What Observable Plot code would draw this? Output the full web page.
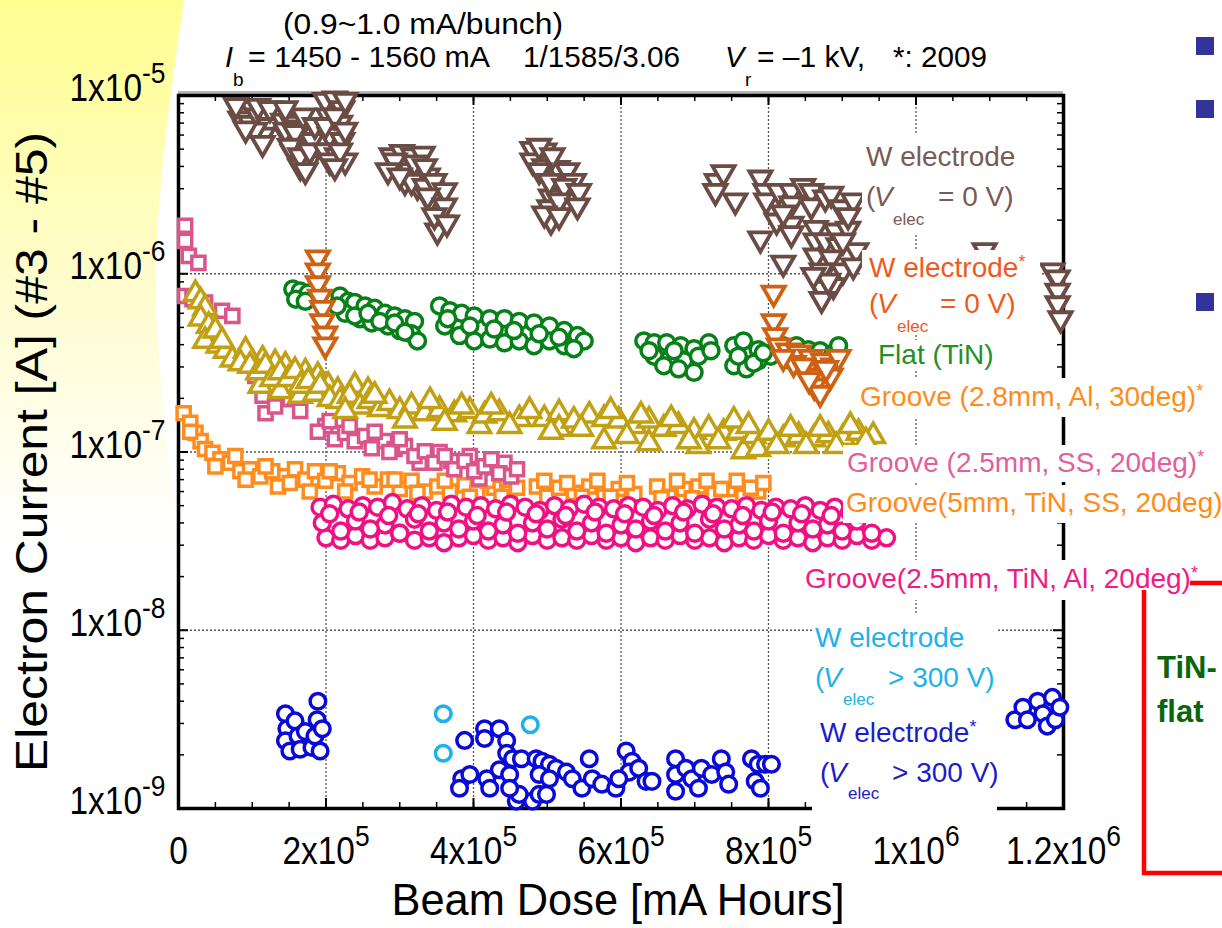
<!DOCTYPE html>
<html>
<head>
<meta charset="utf-8">
<script src="https://cdn.jsdelivr.net/npm/d3@7"></script>
<script src="https://cdn.jsdelivr.net/npm/@observablehq/plot@0.6"></script>
<style>
  html, body { margin: 0; padding: 0; background: #fff; }
  svg text { font-family: "Liberation Sans", Arial, sans-serif; }
</style>
</head>
<body>
<script>
// ---------------- data (Beam Dose [mA h], Electron Current [A]) ----------------
const xMajor = [0, 2e5, 4e5, 6e5, 8e5, 1e6, 1.2e6];
const xTickLabels = ["0", "2x10|5", "4x10|5", "6x10|5", "8x10|5", "1x10|6", "1.2x10|6"];
const xGrid = [2e5, 4e5, 6e5, 8e5, 1e6];
const yMajor = [1e-9, 1e-8, 1e-7, 1e-6, 1e-5];
const yTickLabels = ["1x10|-9", "1x10|-8", "1x10|-7", "1x10|-6", "1x10|-5"];
const yGrid = [1e-8, 1e-7, 1e-6];

// W electrode (Velec = 0 V)
const wElec0 = [
  [0.81e5,8.45e-6],[0.91e5,8.2e-6],[1.00e5,8.45e-6],[0.84e5,7.4e-6],[0.97e5,7.0e-6],[1.08e5,7.7e-6],[1.18e5,7.9e-6],[1.22e5,6.8e-6],[1.15e5,6.0e-6],
  [0.78e5,8.8e-6],[1.08e5,8.7e-6],[1.24e5,8.45e-6],[1.04e5,6.4e-6],[0.91e5,6.5e-6],[1.14e5,5.4e-6],
  [1.42e5,7.2e-6],[1.54e5,7.0e-6],[1.65e5,6.6e-6],[1.47e5,6.0e-6],[1.61e5,5.6e-6],[1.72e5,4.9e-6],[1.55e5,4.8e-6],[1.76e5,4.2e-6],[1.65e5,4.0e-6],[1.81e5,5.6e-6],
  [1.45e5,6.4e-6],[1.58e5,6.2e-6],[1.69e5,7.7e-6],[1.51e5,5.2e-6],[1.65e5,4.6e-6],[1.78e5,4.9e-6],[1.72e5,3.8e-6],[1.85e5,6.8e-6],[1.45e5,8.45e-6],
  [1.99e5,9.4e-6],[2.12e5,9.6e-6],[2.22e5,8.45e-6],[2.03e5,7.7e-6],[2.19e5,7.0e-6],[2.05e5,6.0e-6],[2.22e5,5.6e-6],[1.99e5,4.9e-6],[2.15e5,4.6e-6],[2.26e5,4.3e-6],[2.05e5,4.3e-6],
  [1.99e5,6.8e-6],[2.12e5,7.7e-6],[2.26e5,6.4e-6],[2.19e5,4.9e-6],[2.12e5,4.0e-6],[2.26e5,9.4e-6],
  [2.89e5,4.6e-6],[3.03e5,4.8e-6],[3.18e5,4.6e-6],[3.31e5,4.7e-6],[2.97e5,4.0e-6],[3.14e5,3.8e-6],[3.27e5,3.9e-6],[3.38e5,3.55e-6],[3.43e5,3.0e-6],[3.51e5,2.6e-6],[3.54e5,2.26e-6],[3.55e5,1.93e-6],[3.51e5,1.74e-6],[3.41e5,2.57e-6],[3.24e5,3.1e-6],[3.07e5,3.3e-6],
  [2.93e5,4.3e-6],[3.20e5,4.2e-6],[3.34e5,4.0e-6],[3.16e5,3.3e-6],[3.34e5,3.1e-6],[3.47e5,3.3e-6],[3.61e5,2.93e-6],[3.38e5,2.74e-6],[3.61e5,2.41e-6],[3.47e5,2.12e-6],[3.64e5,1.93e-6],[2.84e5,3.8e-6],[3.00e5,3.55e-6],
  [4.80e5,5.0e-6],[4.96e5,4.9e-6],[4.80e5,4.3e-6],[4.96e5,4.0e-6],[5.14e5,3.9e-6],[5.27e5,3.8e-6],[5.36e5,3.3e-6],[5.19e5,3.1e-6],[5.32e5,2.8e-6],[5.05e5,2.7e-6],[5.03e5,2.35e-6],[5.05e5,1.98e-6],[5.27e5,2.57e-6],
  [4.89e5,5.2e-6],[5.07e5,4.6e-6],[4.89e5,3.8e-6],[5.03e5,3.3e-6],[5.23e5,3.1e-6],[5.43e5,2.9e-6],[5.16e5,2.57e-6],[5.41e5,2.41e-6],[4.96e5,2.17e-6],[5.16e5,2.12e-6],
  [7.30e5,3.3e-6],[7.28e5,2.9e-6],[7.55e5,2.57e-6],[7.89e5,3.45e-6],[7.96e5,2.9e-6],[7.97e5,2.57e-6],[8.14e5,2.9e-6],[8.31e5,2.9e-6],[8.31e5,2.47e-6],[8.11e5,1.98e-6],[8.31e5,1.9e-6],[8.31e5,1.68e-6],[7.89e5,1.57e-6],[8.20e5,1.15e-6],
  [7.39e5,3.7e-6],[8.47e5,3.1e-6],[8.20e5,2.2e-6],
  [8.58e5,2.9e-6],[8.58e5,2.41e-6],[8.77e5,2.67e-6],[8.85e5,2.8e-6],[8.99e5,2.35e-6],[9.15e5,2.57e-6],[8.64e5,1.8e-6],[8.64e5,1.53e-6],[8.64e5,1.26e-6],[8.77e5,1.53e-6],[8.91e5,1.74e-6],[9.08e5,1.78e-6],[9.19e5,1.35e-6],[8.95e5,1.44e-6],[8.85e5,1.23e-6],[9.01e5,1.04e-6],[8.72e5,1.04e-6],[8.88e5,8.6e-7],[8.72e5,8.3e-7],[8.72e5,7.2e-7],
  [9.08e5,2.12e-6],[9.01e5,1.53e-6],[9.15e5,1.11e-6],[8.81e5,9.1e-7],[8.61e5,9.8e-7],
  [10.93e5,1.35e-6],[11.85e5,1.04e-6],[11.92e5,9.5e-7],[11.92e5,8.0e-7],[11.92e5,6.8e-7],[11.96e5,5.6e-7]
];
// W electrode* (Velec = 0 V)
const wElecStar0 = [
  [1.89e5,1.23e-6],[1.89e5,1.04e-6],[1.89e5,8.8e-7],[1.92e5,7.4e-7],[1.95e5,6.4e-7],[1.95e5,5.4e-7],[1.99e5,4.6e-7],[1.99e5,4.0e-7],
  [8.07e5,7.8e-7],[8.07e5,5.4e-7],[8.09e5,4.5e-7],[8.14e5,3.95e-7],[8.27e5,3.7e-7],[8.41e5,3.6e-7],[8.57e5,3.4e-7],[8.74e5,3.25e-7],[8.88e5,3.05e-7],
  [8.34e5,3.15e-7],[8.51e5,2.85e-7],[8.68e5,2.67e-7],[8.84e5,2.67e-7],[8.62e5,2.35e-7],[8.70e5,2.14e-7],
  [8.20e5,3.4e-7],[8.47e5,3.05e-7],[8.95e5,3.4e-7],[8.78e5,2.95e-7],[8.55e5,2.55e-7]
];
// Flat (TiN)
const flatTiN = [
  [1.55e5,8.2e-7],[1.65e5,8.0e-7],[1.76e5,7.8e-7],[1.59e5,7.2e-7],[1.72e5,7.0e-7],
  [2.19e5,7.5e-7],[2.30e5,7.0e-7],[2.39e5,6.9e-7],[2.53e5,6.6e-7],[2.66e5,6.4e-7],[2.80e5,6.0e-7],[2.93e5,5.8e-7],[3.07e5,5.6e-7],[3.20e5,5.4e-7],
  [2.26e5,6.0e-7],[2.46e5,5.6e-7],[2.62e5,5.3e-7],[2.84e5,5.1e-7],[3.00e5,4.8e-7],[3.16e5,4.6e-7],[3.24e5,4.2e-7],
  [2.15e5,6.6e-7],[2.39e5,5.8e-7],[2.57e5,6.0e-7],[2.73e5,5.4e-7],[2.93e5,5.3e-7],[3.07e5,4.7e-7],
  [3.54e5,6.6e-7],[3.68e5,6.2e-7],[3.84e5,6.0e-7],[4.01e5,5.8e-7],[4.22e5,5.6e-7],[4.42e5,5.6e-7],[4.62e5,5.4e-7],[4.82e5,5.3e-7],[5.03e5,5.1e-7],[5.23e5,4.8e-7],[5.41e5,4.5e-7],
  [3.61e5,5.1e-7],[3.81e5,4.5e-7],[4.01e5,4.2e-7],[4.22e5,4.3e-7],[4.42e5,4.1e-7],[4.62e5,4.2e-7],[4.82e5,3.95e-7],[5.03e5,4.2e-7],[5.23e5,3.95e-7],[5.50e5,4.2e-7],
  [3.65e5,5.6e-7],[3.95e5,5.1e-7],[4.28e5,4.9e-7],[4.55e5,4.8e-7],[4.89e5,4.6e-7],[5.16e5,4.4e-7],[5.36e5,3.8e-7],
  [6.31e5,4.2e-7],[6.45e5,4.1e-7],[6.62e5,4.1e-7],[6.81e5,3.95e-7],[6.99e5,3.8e-7],[7.19e5,4.1e-7],[6.45e5,3.45e-7],[6.65e5,3.3e-7],[6.85e5,3.25e-7],[6.99e5,2.8e-7],
  [6.38e5,3.7e-7],[6.72e5,3.7e-7],[7.05e5,3.45e-7],[7.22e5,3.7e-7],[6.58e5,3.05e-7],[6.78e5,2.93e-7],
  [7.53e5,3.95e-7],[7.53e5,3.05e-7],[7.70e5,3.7e-7],[7.86e5,3.75e-7],[8.03e5,3.45e-7],[8.20e5,3.95e-7],[8.38e5,3.95e-7],[8.54e5,3.75e-7],[8.70e5,3.7e-7],[8.88e5,3.6e-7],[7.70e5,2.93e-7],[7.86e5,3.25e-7],
  [7.59e5,3.45e-7],[7.80e5,3.15e-7],[7.93e5,3.6e-7],[7.66e5,4.2e-7],[8.27e5,3.3e-7],[8.47e5,3.25e-7],[8.81e5,3.25e-7],[8.95e5,3.95e-7]
];
// Groove (olive triangles)
const grooveTri = [
  [0.23e5,7.7e-7],[0.30e5,7.0e-7],[0.36e5,6.4e-7],[0.30e5,5.6e-7],[0.41e5,5.1e-7],[0.46e5,4.5e-7],[0.36e5,4.2e-7],[0.54e5,3.95e-7],[0.64e5,3.7e-7],[0.73e5,3.3e-7],
  [0.50e5,4.8e-7],[0.59e5,4.2e-7],[0.91e5,3.7e-7],[1.14e5,3.3e-7],[1.31e5,3.15e-7],[1.45e5,3.05e-7],[1.72e5,2.8e-7],[1.89e5,2.67e-7],[2.03e5,2.35e-7],[2.16e5,2.2e-7],
  [2.39e5,2.35e-7],[2.57e5,2.2e-7],[1.11e5,2.35e-7],[1.38e5,2.2e-7],[1.65e5,2.07e-7],
  [0.84e5,3.15e-7],[0.97e5,3.05e-7],[1.08e5,2.8e-7],[1.18e5,3.05e-7],[1.27e5,2.57e-7],[1.38e5,2.8e-7],[1.49e5,2.57e-7],[1.58e5,2.85e-7],[1.65e5,2.35e-7],[1.76e5,2.5e-7],
  [1.85e5,2.12e-7],[1.92e5,2.35e-7],[2.05e5,1.98e-7],[2.19e5,1.93e-7],[2.32e5,2.07e-7],[2.46e5,1.8e-7],[2.59e5,1.93e-7],[2.73e5,1.74e-7],[2.86e5,1.88e-7],[3.00e5,1.7e-7],
  [3.16e5,1.8e-7],[3.34e5,1.65e-7],[3.54e5,1.72e-7],[3.74e5,1.63e-7],[3.95e5,1.7e-7],[4.08e5,1.4e-7],[4.15e5,1.6e-7],[4.35e5,1.65e-7],[4.62e5,1.53e-7],[4.96e5,1.53e-7],
  [5.16e5,1.65e-7],[5.16e5,1.35e-7],[5.36e5,1.5e-7],[5.57e5,1.6e-7],[5.77e5,1.53e-7],[5.77e5,1.15e-7],[5.97e5,1.5e-7],[6.18e5,1.4e-7],[6.38e5,1.5e-7],[6.38e5,1.12e-7],
  [6.58e5,1.35e-7],[6.78e5,1.4e-7],[6.99e5,1.3e-7],[7.05e5,1.08e-7],[7.19e5,1.35e-7],[7.39e5,1.28e-7],[7.59e5,1.3e-7],[7.66e5,1.01e-7],[7.80e5,1.23e-7],[7.86e5,1.04e-7],
  [8.00e5,1.28e-7],[8.20e5,1.18e-7],[8.41e5,1.23e-7],[8.61e5,1.18e-7],[8.81e5,1.24e-7],[9.01e5,1.2e-7],[9.22e5,1.28e-7],[9.42e5,1.23e-7],
  [2.26e5,1.7e-7],[2.66e5,2.07e-7],[3.07e5,1.5e-7],[3.41e5,1.93e-7],[3.61e5,1.46e-7],[3.84e5,1.8e-7],[4.24e5,1.8e-7],[4.49e5,1.4e-7],[4.76e5,1.7e-7],[5.05e5,1.3e-7],
  [5.46e5,1.35e-7],[5.86e5,1.7e-7],[6.08e5,1.23e-7],[6.27e5,1.6e-7],[6.68e5,1.53e-7],[6.92e5,1.15e-7],[7.32e5,1.15e-7],[7.53e5,1.5e-7],[7.73e5,1.4e-7],[8.11e5,1.08e-7],
  [8.30e5,1.35e-7],[8.51e5,1.08e-7],[8.70e5,1.35e-7],[8.92e5,1.08e-7],[9.11e5,1.4e-7],[9.32e5,1.15e-7]
];
// Groove (2.5mm, SS, 20deg)* (pink squares)
const grooveSS25 = [
  [0.09e5,1.86e-6],[0.09e5,1.53e-6],[0.14e5,1.26e-6],[0.27e5,1.15e-6],
  [0.09e5,7.5e-7],[0.19e5,7.2e-7],[0.36e5,6.9e-7],[0.59e5,6.2e-7],[0.73e5,5.8e-7],
  [0.91e5,3.45e-7],[0.97e5,3.15e-7],[1.04e5,2.67e-7],[1.14e5,2.07e-7],[1.18e5,1.65e-7],[1.31e5,1.8e-7],[1.51e5,1.98e-7],[1.65e5,1.7e-7],
  [1.99e5,1.4e-7],[2.12e5,1.18e-7],[2.26e5,1.28e-7],[2.39e5,1.15e-7],[2.53e5,1.23e-7],[2.62e5,1.05e-7],[2.80e5,1.15e-7],[2.93e5,1.04e-7],[3.07e5,1.08e-7],
  [1.89e5,1.3e-7],[2.05e5,1.49e-7],[2.32e5,1.4e-7],[2.66e5,1.3e-7],[2.86e5,1.0e-7],[3.00e5,1.18e-7],[3.27e5,8.7e-8],[3.54e5,1.0e-7],[3.70e5,8.9e-8],[3.95e5,9.5e-8],[4.08e5,7.1e-8],[4.42e5,8.7e-8],
  [3.20e5,9.5e-8],[3.34e5,1.01e-7],[3.47e5,8.7e-8],[3.61e5,9.5e-8],[3.74e5,8.0e-8],[3.88e5,8.9e-8],[4.01e5,7.8e-8],[4.15e5,8.3e-8],[4.24e5,9.1e-8],[4.35e5,7.6e-8],[4.51e5,7.3e-8],[4.59e5,8.0e-8]
];
// Groove (orange squares)
const grooveSq = [
  [0.07e5,1.65e-7],[0.16e5,1.46e-7],[0.23e5,1.28e-7],[0.30e5,1.15e-7],[0.36e5,1.04e-7],[0.46e5,9.9e-8],[0.57e5,9.1e-8],[0.70e5,8.7e-8],[0.84e5,7.8e-8],[0.97e5,8.0e-8],
  [1.11e5,7.3e-8],[1.27e5,7.8e-8],[1.45e5,7.3e-8],[1.58e5,8.0e-8],[1.72e5,7.0e-8],[1.85e5,7.8e-8],[1.99e5,6.9e-8],[2.16e5,7.6e-8],[2.32e5,6.7e-8],[2.49e5,7.3e-8],
  [2.66e5,6.4e-8],[2.84e5,7.0e-8],[3.00e5,6.2e-8],[3.16e5,6.9e-8],[3.34e5,6.0e-8],[3.51e5,6.4e-8],[3.68e5,6.0e-8],[3.88e5,6.5e-8],[4.05e5,5.9e-8],[4.28e5,6.3e-8],[4.49e5,5.9e-8],
  [4.86e5,6.4e-8],[5.00e5,5.6e-8],[5.16e5,6.3e-8],[5.36e5,5.9e-8],[5.57e5,6.4e-8],[5.77e5,5.6e-8],[5.97e5,6.2e-8],[6.18e5,5.8e-8],
  [6.49e5,6.4e-8],[6.65e5,5.6e-8],[6.85e5,6.2e-8],[7.05e5,6.4e-8],[7.26e5,5.8e-8],[7.46e5,6.2e-8],[7.66e5,5.6e-8],[7.86e5,6.0e-8],
  [0.16e5,1.3e-7],[0.50e5,8.3e-8],[0.77e5,9.5e-8],[0.91e5,7.0e-8],[1.18e5,8.3e-8],[1.35e5,6.4e-8],[1.51e5,6.7e-8],[1.78e5,6.0e-8],[2.05e5,7.8e-8],[2.26e5,6.0e-8],
  [2.59e5,7.0e-8],[2.93e5,7.0e-8],[3.24e5,5.9e-8],[3.61e5,6.9e-8],[3.95e5,5.6e-8],[4.19e5,6.9e-8],[4.38e5,5.6e-8],[4.59e5,6.3e-8],[4.96e5,6.9e-8],[5.27e5,6.7e-8],
  [5.47e5,5.6e-8],[5.68e5,6.9e-8],[5.86e5,5.6e-8],[6.08e5,6.7e-8],[6.55e5,5.5e-8],[6.76e5,6.9e-8],[6.96e5,5.5e-8],[7.16e5,6.9e-8],[7.36e5,6.2e-8],[7.57e5,6.9e-8],[7.76e5,6.3e-8],[7.93e5,6.7e-8]
];
// Groove(2.5mm, TiN, Al, 20deg)* (magenta circles)
const grooveTiNAl = [
  [1.92e5,4.9e-8],[2.1e5,5.1e-8],[2.3e5,4.8e-8],[2.5e5,5.0e-8],[2.7e5,4.9e-8],[2.9e5,5.2e-8],[3.1e5,4.8e-8],[3.3e5,5.0e-8],[3.5e5,4.7e-8],[3.7e5,5.1e-8],
  [3.9e5,4.9e-8],[4.1e5,5.0e-8],[4.3e5,4.8e-8],[4.5e5,5.1e-8],[4.7e5,4.9e-8],[4.9e5,4.7e-8],[5.1e5,5.0e-8],[5.3e5,4.8e-8],[5.5e5,5.1e-8],[5.7e5,4.9e-8],
  [5.9e5,4.8e-8],[6.1e5,5.0e-8],[6.3e5,4.9e-8],[6.5e5,4.7e-8],[6.7e5,5.0e-8],[6.9e5,4.8e-8],[7.1e5,5.1e-8],[7.3e5,4.9e-8],[7.5e5,4.8e-8],[7.7e5,5.0e-8],
  [7.9e5,4.7e-8],[8.1e5,4.9e-8],[8.3e5,4.8e-8],[8.5e5,5.0e-8],[8.7e5,4.7e-8],[8.9e5,4.9e-8],[9.1e5,4.6e-8],[9.3e5,4.8e-8],[9.5e5,4.6e-8],
  [2.0e5,3.3e-8],[2.2e5,3.2e-8],[2.4e5,3.4e-8],[2.6e5,3.2e-8],[2.8e5,3.3e-8],[3.0e5,3.5e-8],[3.2e5,3.2e-8],[3.4e5,3.3e-8],[3.6e5,3.1e-8],[3.8e5,3.3e-8],
  [4.0e5,3.4e-8],[4.2e5,3.2e-8],[4.4e5,3.3e-8],[4.6e5,3.1e-8],[4.8e5,3.4e-8],[5.0e5,3.2e-8],[5.2e5,3.3e-8],[5.4e5,3.2e-8],[5.6e5,3.4e-8],[5.8e5,3.2e-8],
  [6.0e5,3.3e-8],[6.2e5,3.1e-8],[6.4e5,3.3e-8],[6.6e5,3.2e-8],[6.8e5,3.4e-8],[7.0e5,3.2e-8],[7.2e5,3.3e-8],[7.4e5,3.1e-8],[7.6e5,3.3e-8],[7.8e5,3.2e-8],
  [8.0e5,3.4e-8],[8.2e5,3.2e-8],[8.4e5,3.3e-8],[8.6e5,3.1e-8],[8.8e5,3.3e-8],[9.0e5,3.2e-8],[9.2e5,3.4e-8],[9.4e5,3.2e-8],[9.6e5,3.3e-8],
  [1.95e5,4.0e-8],[2.4e5,4.1e-8],[2.8e5,3.9e-8],[3.2e5,4.2e-8],[3.6e5,4.0e-8],[4.0e5,4.1e-8],[4.4e5,3.9e-8],[4.8e5,4.0e-8],[5.2e5,4.2e-8],[5.6e5,4.0e-8],
  [6.0e5,3.9e-8],[6.4e5,4.1e-8],[6.8e5,4.0e-8],[7.2e5,4.2e-8],[7.6e5,3.9e-8],[8.0e5,4.1e-8],[8.4e5,4.0e-8],[8.8e5,3.9e-8],[9.2e5,4.1e-8],
  [2.05e5,4.5e-8],[2.45e5,4.6e-8],[2.85e5,4.4e-8],[3.25e5,4.5e-8],[3.65e5,4.6e-8],[4.05e5,4.4e-8],[4.45e5,4.6e-8],[4.85e5,4.5e-8],[5.25e5,4.4e-8],[5.65e5,4.6e-8],
  [6.05e5,4.5e-8],[6.45e5,4.4e-8],[6.85e5,4.6e-8],[7.25e5,4.5e-8],[7.65e5,4.4e-8],[8.05e5,4.6e-8],[8.45e5,4.5e-8],[8.85e5,4.4e-8],[9.25e5,4.5e-8],
  [2.2e5,3.6e-8],[2.6e5,3.7e-8],[3.0e5,3.5e-8],[3.4e5,3.6e-8],[3.8e5,3.7e-8],[4.2e5,3.6e-8],[4.6e5,3.5e-8],[5.0e5,3.7e-8],[5.4e5,3.6e-8],[5.8e5,3.5e-8],
  [6.2e5,3.7e-8],[6.6e5,3.6e-8],[7.0e5,3.5e-8],[7.4e5,3.7e-8],[7.8e5,3.6e-8],[8.2e5,3.5e-8],[8.6e5,3.7e-8],[9.0e5,3.6e-8],[9.4e5,3.5e-8]
];
// W electrode (Velec > 300 V)
const wElecHV = [[3.59e5,3.4e-9],[3.59e5,2.04e-9],[4.77e5,2.95e-9]];
// W electrode* (Velec > 300 V)
const wElecStarHV = [
  [1.45e5,3.4e-9],[1.47e5,2.8e-9],[1.45e5,2.4e-9],[1.51e5,2.1e-9],[1.58e5,3.1e-9],[1.62e5,2.55e-9],[1.65e5,2.15e-9],[1.72e5,2.7e-9],[1.81e5,2.2e-9],[1.85e5,2.55e-9],[1.88e5,3.15e-9],[1.89e5,4.0e-9],[1.92e5,2.1e-9],[1.95e5,2.8e-9],
  [3.88e5,2.41e-9],[4.15e5,2.8e-9],[4.35e5,2.8e-9],[4.15e5,2.47e-9],[4.45e5,2.4e-9],[3.84e5,1.47e-9],[3.81e5,1.3e-9],[3.95e5,1.55e-9],[4.18e5,1.47e-9],[4.22e5,1.3e-9],
  [4.35e5,1.65e-9],[4.49e5,1.55e-9],[4.45e5,2.04e-9],[4.53e5,1.9e-9],[4.65e5,1.9e-9],[4.58e5,1.1e-9],[4.80e5,1.1e-9],[4.89e5,1.2e-9],[4.99e5,1.2e-9],[4.62e5,1.2e-9],
  [4.49e5,1.3e-9],[4.85e5,1.9e-9],[4.93e5,1.84e-9],[5.03e5,1.77e-9],[5.12e5,1.68e-9],[4.89e5,1.55e-9],[5.03e5,1.47e-9],[5.26e5,1.6e-9],[5.34e5,1.47e-9],[5.47e5,1.3e-9],
  [5.57e5,1.9e-9],[5.61e5,1.47e-9],[5.74e5,1.37e-9],[5.93e5,1.3e-9],[6.07e5,2.1e-9],[6.15e5,1.84e-9],[6.11e5,1.6e-9],[6.24e5,1.68e-9],[6.34e5,1.42e-9],[6.42e5,1.42e-9],
  [5.97e5,1.47e-9],[6.74e5,1.9e-9],[6.74e5,1.55e-9],[6.74e5,1.25e-9],[6.88e5,1.68e-9],[6.96e5,1.47e-9],[7.05e5,1.3e-9],[7.09e5,1.68e-9],[7.23e5,1.55e-9],[7.36e5,1.9e-9],
  [7.42e5,1.6e-9],[7.46e5,1.37e-9],[7.77e5,1.9e-9],[7.86e5,1.77e-9],[7.96e5,1.77e-9],[8.04e5,1.77e-9],[7.82e5,1.42e-9],[7.89e5,1.3e-9],
  [11.34e5,3.15e-9],[11.45e5,3.7e-9],[11.51e5,3.15e-9],[11.65e5,4.0e-9],[11.72e5,3.4e-9],[11.78e5,2.9e-9],[11.85e5,4.2e-9],[11.89e5,3.15e-9],[11.95e5,3.7e-9]
];

// ---------------- chart ----------------
const W = 1222, H = 928, mL = 178, mR = 159, mT = 95, mB = 120;
const frameW = W - mL - mR, frameH = H - mT - mB;
const xMinor = d3.range(0, 1.2e6 + 1, 5e4);
const yMinor = yMajor.slice(0, -1).flatMap(d => d3.range(2, 10).map(m => m * d));
const xFmt = new Map(xMajor.map((v, i) => [v, xTickLabels[i]]));
const yFmt = new Map(yMajor.map((v, i) => [v, yTickLabels[i]]));

const triDown = {
  draw(ctx, size) {
    const s = Math.sqrt(size * 4 / Math.sqrt(3)), h = s * Math.sqrt(3) / 2;
    ctx.moveTo(-s / 2, -h / 3); ctx.lineTo(s / 2, -h / 3); ctx.lineTo(0, 2 * h / 3); ctx.closePath();
  }
};
const X = d => d[0], Y = d => d[1];
const dots = (data, symbol, stroke, r, sw = 3.5) =>
  Plot.dot(data, {x: X, y: Y, symbol, r, stroke, strokeWidth: sw, fill: "white"});

const chart = Plot.plot({
  width: W, height: H,
  marginLeft: mL, marginRight: mR, marginTop: mT, marginBottom: mB,
  style: {background: "white", fontFamily: "Liberation Sans, Arial, sans-serif"},
  x: {domain: [0, 1.2e6]},
  y: {type: "log", domain: [1e-9, 1e-5]},
  marks: [
    Plot.gridX(xGrid, {stroke: "#555", strokeOpacity: 1, strokeWidth: 1.3, strokeDasharray: "2,2"}),
    Plot.gridY(yGrid, {stroke: "#555", strokeOpacity: 1, strokeWidth: 1.3, strokeDasharray: "2,2"}),
    Plot.ruleY([1e-5], {stroke: "#b4b4b4", strokeWidth: 3, dy: -3}),
    Plot.frame({stroke: "#000", strokeWidth: 3.5}),
    Plot.ruleX(xMinor, {insetTop: frameH - 6, stroke: "#000", strokeWidth: 1.5}),
    Plot.ruleX(xMinor, {insetBottom: frameH - 6, stroke: "#000", strokeWidth: 1.5}),
    Plot.ruleX(xMajor, {insetTop: frameH - 10, stroke: "#000", strokeWidth: 2}),
    Plot.ruleX(xMajor, {insetBottom: frameH - 10, stroke: "#000", strokeWidth: 2}),
    Plot.ruleY(yMinor, {insetRight: frameW - 6, stroke: "#000", strokeWidth: 1.5}),
    Plot.ruleY(yMinor, {insetLeft: frameW - 6, stroke: "#000", strokeWidth: 1.5}),
    Plot.ruleY(yMajor, {insetRight: frameW - 10, stroke: "#000", strokeWidth: 2}),
    Plot.ruleY(yMajor, {insetLeft: frameW - 10, stroke: "#000", strokeWidth: 2}),
    Plot.axisX({ticks: xMajor, tickSize: 0, tickPadding: 29, tickFormat: d => xFmt.get(d), fontSize: 38, fill: "#000", label: null}),
    Plot.axisY({ticks: yMajor, tickSize: 0, tickPadding: 13, tickFormat: d => yFmt.get(d), fontSize: 38, fill: "#000", dy: -6.5, label: null}),
    dots(grooveSq, "square", "#ff8c1e", 7.4),
    dots(grooveSS25, "square", "#d9558a", 7.4),
    dots(grooveTri, "triangle", "#c1a014", 8.3),
    dots(grooveTiNAl, "circle", "#ef1183", 8),
    dots(flatTiN, "circle", "#07801a", 8),
    dots(wElec0, triDown, "#6b4c45", 8.2, 3.8),
    dots(wElecStar0, triDown, "#cf6115", 8.2, 3.8),
    dots(wElecHV, "circle", "#1eb1ea", 7.8),
    dots(wElecStarHV, "circle", "#0a0ad8", 7.8)
  ]
});
document.body.appendChild(chart);

// ---------------- post-processing: superscripts in tick labels ----------------
const NS = "http://www.w3.org/2000/svg";
const svgEl = chart.tagName.toLowerCase() === "svg" ? chart : chart.querySelector("svg");
svgEl.querySelectorAll("text").forEach(t => {
  const s = t.textContent;
  if (!s.includes("|")) return;
  const [base, sup] = s.split("|");
  t.textContent = "";
  const a = document.createElementNS(NS, "tspan"); a.textContent = base; t.appendChild(a);
  const b = document.createElementNS(NS, "tspan"); b.textContent = sup;
  b.setAttribute("dy", "-18"); b.setAttribute("font-size", "30"); t.appendChild(b);
});
svgEl.querySelectorAll("text").forEach(t => {
  const s = t.textContent;
  if (!/^(0|[\d.]+x10-?\d)$/.test(s)) return;
  const x = +t.getAttribute("x") || 0, y = +t.getAttribute("y") || 0;
  const tr = t.getAttribute("transform") || "";
  t.setAttribute("transform", `${tr} translate(${x},${y}) scale(0.88,1) translate(${-x},${-y})`);
});

// ---------------- annotations ----------------
const svg = d3.select(svgEl);
const defs = svg.insert("defs", ":first-child");
const grad = defs.append("linearGradient").attr("id", "yel").attr("x1", 0).attr("y1", 0).attr("x2", 0).attr("y2", 1);
grad.append("stop").attr("offset", 0).attr("stop-color", "#ffff90");
grad.append("stop").attr("offset", 0.55).attr("stop-color", "#fffcd0");
grad.append("stop").attr("offset", 1).attr("stop-color", "#ffffff");
svg.insert("path", "defs + *")
  .attr("d", "M0,0 H184 C168,110 150,240 158,340 C163,420 172,480 178,540 H0 Z")
  .attr("fill", "url(#yel)");

const ann = svg.append("g").attr("font-family", "Liberation Sans, Arial, sans-serif");
function lab(x, y, s, o = {}) {
  const t = ann.append("text").attr("x", x).attr("y", y).text(s)
    .attr("font-size", o.size || 28).attr("fill", o.color || "#000")
    .attr("text-anchor", o.anchor || "start");
  if (o.italic) t.attr("font-style", "italic");
  if (o.bold) t.attr("font-weight", "bold");
  if (o.len) t.attr("textLength", o.len).attr("lengthAdjust", "spacingAndGlyphs");
  if (o.star) t.append("tspan").attr("dy", -9).attr("font-size", 18).text("*");
  return t;
}

// white boxes behind the series labels
const boxes = [[862,135,158,100],[862,250,178,85],[875,340,125,30],[856,378,354,39],[843,445,367,37],[843,485,379,38],[802,560,388,40],[812,615,185,200]];
boxes.forEach(([x, y, w, h]) => ann.append("rect").attr("x", x).attr("y", y).attr("width", w).attr("height", h).attr("fill", "white"));

// series labels
const cBrown = "#7a5a52", cOrRed = "#ee5a1e", cGreen = "#249024", cOrange = "#ff8c1a", cPink = "#e0609a", cMag = "#f01a88", cCyan = "#22b2ea", cBlue = "#1c1ccc";
lab(866, 166, "W electrode", {color: cBrown});
lab(866, 206, "(", {color: cBrown}); lab(874, 206, "V", {color: cBrown, italic: true});
lab(893, 225, "elec", {color: cBrown, size: 17}); lab(938, 206, "= 0 V)", {color: cBrown});
lab(869, 277, "W electrode", {color: cOrRed, star: true});
lab(869, 313, "(", {color: cOrRed}); lab(877, 313, "V", {color: cOrRed, italic: true});
lab(897, 332, "elec", {color: cOrRed, size: 17}); lab(940, 313, "= 0 V)", {color: cOrRed});
lab(878, 364, "Flat (TiN)", {color: cGreen});
lab(860, 406, "Groove (2.8mm, Al, 30deg)", {color: cOrange, star: true});
lab(847, 472, "Groove (2.5mm, SS, 20deg)", {color: cPink, star: true});
lab(846, 512, "Groove(5mm, TiN, SS, 20deg)", {color: cOrange});
lab(805, 588, "Groove(2.5mm, TiN, Al, 20deg)", {color: cMag, star: true});
lab(815, 647, "W electrode", {color: cCyan});
lab(815, 687, "(", {color: cCyan}); lab(823, 687, "V", {color: cCyan, italic: true});
lab(843, 705, "elec", {color: cCyan, size: 17}); lab(888, 687, "> 300 V)", {color: cCyan});
lab(820, 742, "W electrode", {color: cBlue, star: true});
lab(820, 782, "(", {color: cBlue}); lab(828, 782, "V", {color: cBlue, italic: true});
lab(848, 799, "elec", {color: cBlue, size: 17}); lab(892, 782, "> 300 V)", {color: cBlue});

// titles
lab(283, 34, "(0.9~1.0 mA/bunch)", {size: 30, len: 280});
lab(225, 67, "I", {size: 29, italic: true});
lab(233, 86, "b", {size: 19});
lab(248, 67, "= 1450 - 1560 mA", {size: 29, len: 242});
lab(523, 67, "1/1585/3.06", {size: 29, len: 157});
lab(725, 67, "V", {size: 29, italic: true});
lab(745, 86, "r", {size: 19});
lab(757, 67, "= \u20131 kV,", {size: 29, len: 108});
lab(893, 67, "*: 2009", {size: 29, len: 94});

// axis titles
lab(618, 915, "Beam Dose [mA Hours]", {size: 44, anchor: "middle", len: 453});
ann.append("text").attr("transform", "translate(47,452) rotate(-90)").attr("text-anchor", "middle")
  .attr("font-size", 45).attr("fill", "#000").attr("textLength", 640).attr("lengthAdjust", "spacingAndGlyphs")
  .text("Electron Current [A] (#3 - #5)");

// slide decorations on the right
[37, 100, 293].forEach(y => ann.append("rect").attr("x", 1196).attr("y", y).attr("width", 18).attr("height", 18).attr("fill", "#333399"));
ann.append("path").attr("d", "M1190,583 H1222 M1144,590 V873 H1222").attr("fill", "none").attr("stroke", "#ff0000").attr("stroke-width", 4.5);
lab(1157, 678, "TiN-", {size: 31, bold: true, color: "#0a660a"});
lab(1157, 722, "flat", {size: 31, bold: true, color: "#0a660a"});
</script>
</body>
</html>
